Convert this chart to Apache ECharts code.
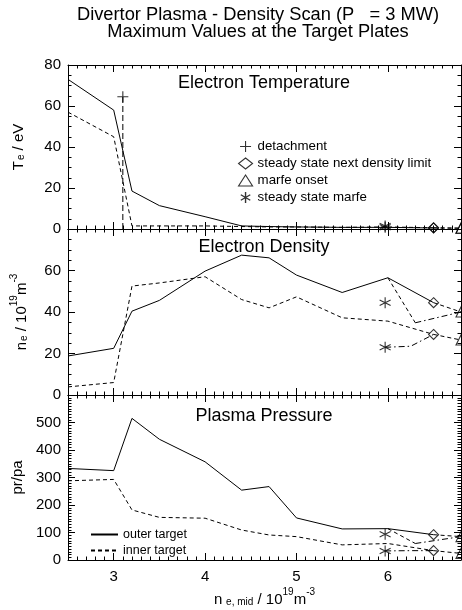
<!DOCTYPE html>
<html>
<head>
<meta charset="utf-8">
<script src="https://cdn.jsdelivr.net/npm/echarts@6/dist/echarts.min.js"></script>
<style>
  html, body { margin: 0; padding: 0; background: #fff; }
  #chart { width: 462px; height: 610px; }
</style>
</head>
<body>
<div id="chart"></div>
<script>
// midplane density of the scan, 10^19 m^-3
const neScan = [2.5, 3.0, 3.2, 3.5, 4.0, 4.4, 4.7, 5.0, 5.5, 6.0, 6.5];

// electron temperature at the plates, eV
const teOuter = [73, 58, 18.5, 11.4, 6, 1.5, 1.2, 1.0, 0.8, 0.8, 0.5];
const teInner = [57, 45, 1.5, 1.5, 1.5, 1.2, 1.0, 1.0, 0.8, 1.0, 0.6];

// electron density at the plates, 10^19 m^-3
const neOuter = [18.8, 22.5, 40.4, 45.6, 59.7, 67.4, 66.1, 57.8, 49.4, 56.5, 44.5];
const neInner = [3.9, 6.0, 52.5, 54, 57, 46, 42, 47.3, 37.2, 35.6, 29.2];

// plasma pressure at the plates, pa
const prOuter = [333, 325, 515, 439, 357, 254, 267, 153, 113, 114, 92];
const prInner = [288, 293, 182, 155, 152, 109, 91, 85, 55, 60, 34];

// detachment point
const detachX = 3.1;
const detachTe = 64.5;

// steady state marfe (outer, inner)
const marfeX = 5.97;
const teMarfe = [1.5, 0.8];
const neMarfe = [44.5, 23];
const prMarfe = [94, 33];

// marfe onset (outer, inner)
const onsetX = 6.8;
const teOnset = [0.4, 0.4];
const neOnset = [40, 26.5];
const prOnset = [85, 24];

// marfe branch from the last steady point
const branchX = [6.0, 6.3, 6.8];
const neBranch = [56.5, 34.8, 40];
const prBranch = [114, 60, 85];
const starBranchX = [5.97, 6.25, 6.5];
const neStarBranch = [23, 23.5, 29.2];
const prStarBranch = [33, 34, 34];

const xTicks = [3, 4, 5, 6];

const FONT = '"Liberation Sans", Arial, Helvetica, sans-serif';
const BLACK = '#000';
const DASH = [4, 3];
const DASHDOT = [6, 3, 1.5, 3];

const pts = (xs, ys) => xs.map((x, i) => [x, ys[i]]);
const last = a => a[a.length - 1];

const plus = 'path://M0,5H10M5,0V10';
const star = 'path://M5,0V10M0.7,2.5L9.3,7.5M9.3,2.5L0.7,7.5';

const rich = {
  b: { fontSize: 15, fontFamily: FONT, color: BLACK, lineHeight: 20, verticalAlign: 'bottom' },
  s: { fontSize: 10, fontFamily: FONT, color: BLACK, lineHeight: 20, verticalAlign: 'bottom', padding: [0, 0, 0, 1] },
  p: { fontSize: 10, fontFamily: FONT, color: BLACK, lineHeight: 20, verticalAlign: 'top' }
};

const panels = [
  { top: 65, height: 164, max: 80, interval: 20, minor: 4, showMax: true,
    name: '{b|T}{s|e}{b| / eV}', nameGap: 42 },
  { top: 229, height: 166, max: 80, interval: 20, minor: 4, showMax: false,
    name: '{b|n}{s|e}{b| / 10}{p|19}{b|m}{p|-3}', nameGap: 39 },
  { top: 395, height: 165, max: 600, interval: 100, minor: 10, showMax: false,
    name: '{b|pr/pa}', nameGap: 33 }
];

const grid = [], xAxis = [], yAxis = [];
const lineAxis = { lineStyle: { color: BLACK, width: 1 } };

panels.forEach((p, i) => {
  // grid for minor x ticks, grid for everything else
  grid.push({ left: 68, right: 1, top: p.top, height: p.height });
  grid.push({ left: 68, right: 1, top: p.top, height: p.height });
  ['bottom', 'top'].forEach(pos => {
    xAxis.push({
      gridIndex: 2 * i, type: 'value', position: pos, min: 2.5, max: 6.8, interval: 0.1,
      axisLine: { show: true, onZero: false, ...lineAxis },
      axisTick: { inside: true, length: 3.5, lineStyle: { color: BLACK } },
      axisLabel: { show: false }, splitLine: { show: false }
    });
  });
  ['bottom', 'top'].forEach(pos => {
    const lab = i === 2 && pos === 'bottom';
    xAxis.push({
      gridIndex: 2 * i + 1, type: 'value', position: pos, min: 2.5, max: 6.8, interval: 0.1,
      axisLine: { show: false, onZero: false },
      axisTick: { inside: true, length: 7, customValues: xTicks, lineStyle: { color: BLACK } },
      axisLabel: { show: lab, customValues: xTicks, color: BLACK, fontSize: 15, fontFamily: FONT, margin: 9 },
      splitLine: { show: false },
      name: lab ? '{b|n}{s| e, mid}{b| / 10}{p|19}{b|m}{p|-3}' : '',
      nameLocation: 'middle', nameGap: 27,
      nameTextStyle: { rich }
    });
  });
  yAxis.push({ gridIndex: 2 * i, type: 'value', min: 0, max: 1, show: false });
  ['left', 'right'].forEach(pos => {
    yAxis.push({
      gridIndex: 2 * i + 1, type: 'value', position: pos, min: 0, max: p.max, interval: p.interval,
      axisLine: { show: true, onZero: false, ...lineAxis },
      axisTick: { inside: true, length: 7, lineStyle: { color: BLACK } },
      minorTick: { show: true, splitNumber: p.minor, length: 3.5, lineStyle: { color: BLACK } },
      axisLabel: { show: pos === 'left', color: BLACK, fontSize: 15, fontFamily: FONT, margin: 7,
        showMaxLabel: p.showMax },
      splitLine: { show: false },
      name: pos === 'left' ? p.name : '',
      nameLocation: 'middle', nameGap: p.nameGap, nameRotate: 90,
      nameTextStyle: { rich }
    });
  });
});

const xi = i => 4 * i + 2;
const yi = i => 3 * i + 1;

function line(i, data, type, name) {
  return { type: 'line', name: name || '', xAxisIndex: xi(i), yAxisIndex: yi(i), data,
    symbol: 'none', silent: true, animation: false, z: 2,
    itemStyle: { color: BLACK },
    lineStyle: { color: BLACK, width: 1, type: type || 'solid' } };
}
function marks(i, data, name, symbol, size) {
  return { type: 'scatter', name, xAxisIndex: xi(i), yAxisIndex: yi(i), data, symbol,
    symbolSize: size, silent: true, z: 3,
    itemStyle: { color: 'transparent', borderColor: BLACK, borderWidth: 1.1 } };
}

const series = [];
const sets = [
  { outer: teOuter, inner: teInner, marfe: teMarfe, onset: teOnset },
  { outer: neOuter, inner: neInner, marfe: neMarfe, onset: neOnset, branch: neBranch, starBranch: neStarBranch },
  { outer: prOuter, inner: prInner, marfe: prMarfe, onset: prOnset, branch: prBranch, starBranch: prStarBranch }
];
sets.forEach((s, i) => {
  series.push(line(i, pts(neScan, s.outer), 'solid', 'outer target'));
  series.push(line(i, pts(neScan, s.inner), DASH, 'inner target'));
  series.push(line(i, [[last(neScan), last(s.outer)], [onsetX, s.onset[0]]], DASH));
  series.push(line(i, [[last(neScan), last(s.inner)], [onsetX, s.onset[1]]], DASH));
  if (s.branch) {
    series.push(line(i, pts(branchX.slice(0, 2), s.branch.slice(0, 2)), DASH));
    series.push(line(i, pts(branchX.slice(1), s.branch.slice(1)), DASHDOT));
    series.push(line(i, pts(starBranchX, s.starBranch), DASHDOT));
  }
  series.push(marks(i, s.marfe.map(v => [marfeX, v]), 'steady state marfe', star, 11));
  series.push(marks(i, [[last(neScan), last(s.outer)], [last(neScan), last(s.inner)]],
    'steady state next density limit', 'diamond', 10));
  series.push(marks(i, s.onset.map(v => [onsetX, v]), 'marfe onset', 'triangle', 10));
});
series.push(line(0, [[detachX, 0], [detachX, detachTe]], [6, 3]));
series.push(marks(0, [[detachX, detachTe]], 'detachment', plus, 11));

const hollow = { color: 'transparent', borderColor: BLACK, borderWidth: 1.1 };
const legendText = { color: BLACK, fontFamily: FONT };
const noSymbol = { opacity: 0 };

const titleText = { color: BLACK, fontFamily: FONT, fontWeight: 'normal', fontSize: 18 };

const option = {
  animation: false,
  backgroundColor: '#fff',
  title: [
    { text: 'Divertor Plasma - Density Scan (P   = 3 MW)\nMaximum Values at the Target Plates',
      left: 258, top: 6, textAlign: 'center', padding: 0,
      textStyle: { ...titleText, fontSize: 18.3, lineHeight: 17.5 } },
    { text: 'Electron Temperature', left: 264, top: 74, textAlign: 'center', padding: 0, textStyle: titleText },
    { text: 'Electron Density', left: 264, top: 238, textAlign: 'center', padding: 0, textStyle: titleText },
    { text: 'Plasma Pressure', left: 264, top: 407, textAlign: 'center', padding: 0, textStyle: titleText }
  ],
  legend: [
    { orient: 'vertical', left: 238, top: 140, itemWidth: 14, itemHeight: 11, itemGap: 4,
      selectedMode: false, padding: 0, textStyle: { ...legendText, fontSize: 13.3 },
      data: [
        { name: 'detachment', icon: plus, itemStyle: hollow },
        { name: 'steady state next density limit', icon: 'diamond', itemStyle: hollow },
        { name: 'marfe onset', icon: 'triangle', itemStyle: hollow },
        { name: 'steady state marfe', icon: star, itemStyle: { ...hollow, borderWidth: 1.4 } }
      ] },
    { orient: 'vertical', left: 90, top: 528, itemWidth: 27, itemHeight: 12, itemGap: 3,
      selectedMode: false, padding: 0, textStyle: { ...legendText, fontSize: 12.5 },
      data: [
        { name: 'outer target', itemStyle: noSymbol },
        { name: 'inner target', itemStyle: noSymbol }
      ] }
  ],
  grid, xAxis, yAxis, series
};

const chart = echarts.init(document.getElementById('chart'));
chart.setOption(option);
</script>
</body>
</html>
